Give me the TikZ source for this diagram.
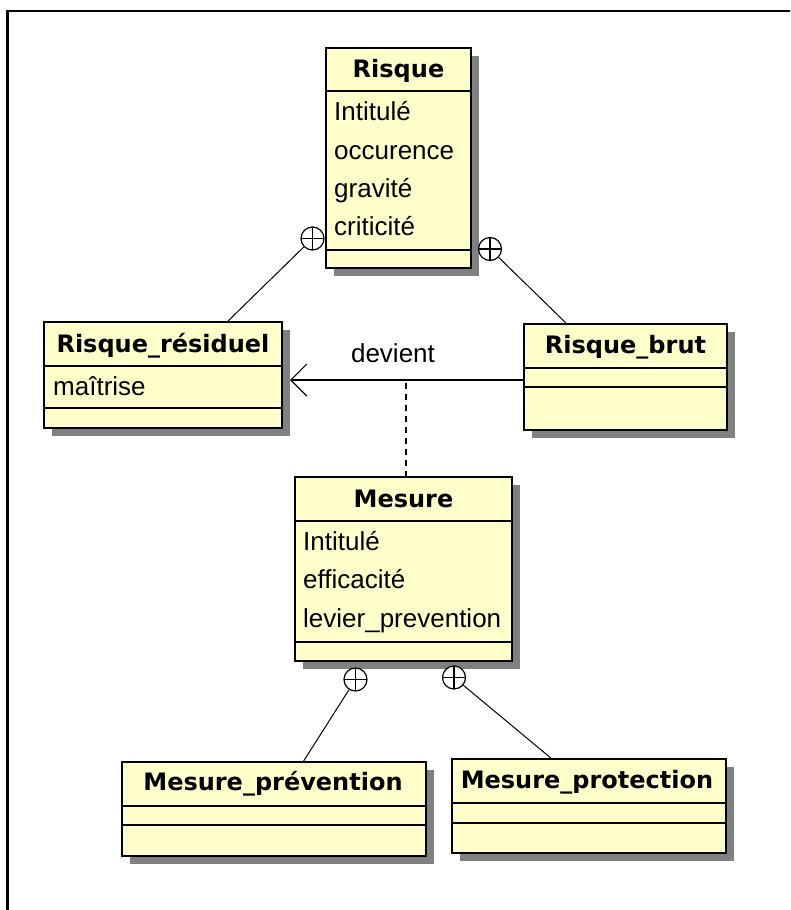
\documentclass[tikz,border=0pt]{standalone}
\usepackage{fontspec}
\setmainfont{Liberation Sans}
\newfontfamily\hdfont{DejaVu Sans}
\usetikzlibrary{shadows,arrows.meta}
\definecolor{clsfill}{RGB}{255,255,204}
\definecolor{shadecol}{RGB}{128,128,128}
\tikzset{
  cls/.style={draw=black, line width=2pt, fill=clsfill, rectangle, inner sep=0pt,
    drop shadow={shadow xshift=8pt, shadow yshift=-8pt, fill=shadecol, opacity=1}},
  sep/.style={line width=2pt},
  hd/.style={font=\hdfont\bfseries\fontsize{24}{28}\selectfont, anchor=base, inner sep=0pt},
  attr/.style={font=\fontsize{26}{30}\selectfont, anchor=base west, inner sep=0pt},
  lbl/.style={font=\fontsize{26}{30}\selectfont, anchor=base, inner sep=0pt},
  plus/.style={circle, draw, line width=1.2pt, fill=white, minimum size=23pt, inner sep=0pt,
    path picture={\draw[line width=1.2pt] (path picture bounding box.north) -- (path picture bounding box.south)
      (path picture bounding box.west) -- (path picture bounding box.east);}},
  link/.style={line width=1pt},
  frame/.style={line width=2.5pt}
}
\begin{document}
\begin{tikzpicture}[x=1pt,y=-1pt]
\useasboundingbox (0,0) rectangle (790,910);
% outer frame (only top and left visible)
\draw[frame] (790,11) -- (7.5,11) -- (7.5,910);

% Risque
\node[cls, minimum width=145pt, minimum height=220pt] (risque) at (398.5,158) {};
\draw[sep] (326,91) -- (471,91);
\draw[sep] (326,250) -- (471,250);
\node[hd] (risqueT) at (398.5,77) {Risque};
\node[attr] (risqueA1) at (334,120) {Intitulé};
\node[attr] (risqueA2) at (334,159) {occurence};
\node[attr] (risqueA3) at (334,197) {gravité};
\node[attr] (risqueA4) at (334,235) {criticité};

% Risque_residuel
\node[cls, minimum width=238pt, minimum height=106pt] (resid) at (163,375) {};
\draw[sep] (44,366) -- (282,366);
\draw[sep] (44,408) -- (282,408);
\node[hd] (residT) at (163,352) {Risque\_résiduel};
\node[attr] (residA1) at (53,395) {maîtrise};

% Risque_brut
\node[cls, minimum width=203pt, minimum height=106pt] (brut) at (625.5,377) {};
\draw[sep] (524,368) -- (727,368);
\draw[sep] (524,387) -- (727,387);
\node[hd] (brutT) at (625.5,353) {Risque\_brut};

% Mesure
\node[cls, minimum width=217pt, minimum height=184pt] (mesure) at (403.5,569) {};
\draw[sep] (295,521) -- (512,521);
\draw[sep] (295,642) -- (512,642);
\node[hd] (mesureT) at (403.5,507) {Mesure};
\node[attr] (mesureA1) at (303,550) {Intitulé};
\node[attr] (mesureA2) at (303,588) {efficacité};
\node[attr] (mesureA3) at (303,627) {levier\_prevention};

% Mesure_prevention
\node[cls, minimum width=304pt, minimum height=94pt] (mprev) at (274,809) {};
\draw[sep] (122,806) -- (426,806);
\draw[sep] (122,825) -- (426,825);
\node[hd] (mprevT) at (273,790) {Mesure\_prévention};

% Mesure_protection
\node[cls, minimum width=274pt, minimum height=94pt] (mprot) at (589,806) {};
\draw[sep] (452,803) -- (726,803);
\draw[sep] (452,823) -- (726,823);
\node[hd] (mprotT) at (587,788) {Mesure\_protection};

% containment symbols
\node[plus] (c1) at (312.5,238.5) {};
\node[plus] (c2) at (490,249) {};
\node[plus] (c3) at (355.5,679.5) {};
\node[plus] (c4) at (454,677.5) {};

\coordinate (e1) at (227,322);
\coordinate (e2) at (567,324);
\coordinate (e3) at (303,762);
\coordinate (e4) at (552,759);
\draw[link] (c1) -- (e1);
\draw[link] (c2) -- (e2);
\draw[link] (c3) -- (e3);
\draw[link] (c4) -- (e4);

% association "devient"
\coordinate (aS) at (524,380);
\coordinate (aE) at (290,380);
\draw[line width=1.2pt, -{Straight Barb[length=16pt, width=32pt, line width=1.2pt]}] (aS) -- (aE);
\node[lbl] (dev) at (393,362) {devient};
\coordinate (dS) at (406,383);
\coordinate (dE) at (406,477);
\draw[line width=1.3pt, dash pattern=on 6pt off 5pt] (dS) -- (dE);
\end{tikzpicture}
\end{document}
